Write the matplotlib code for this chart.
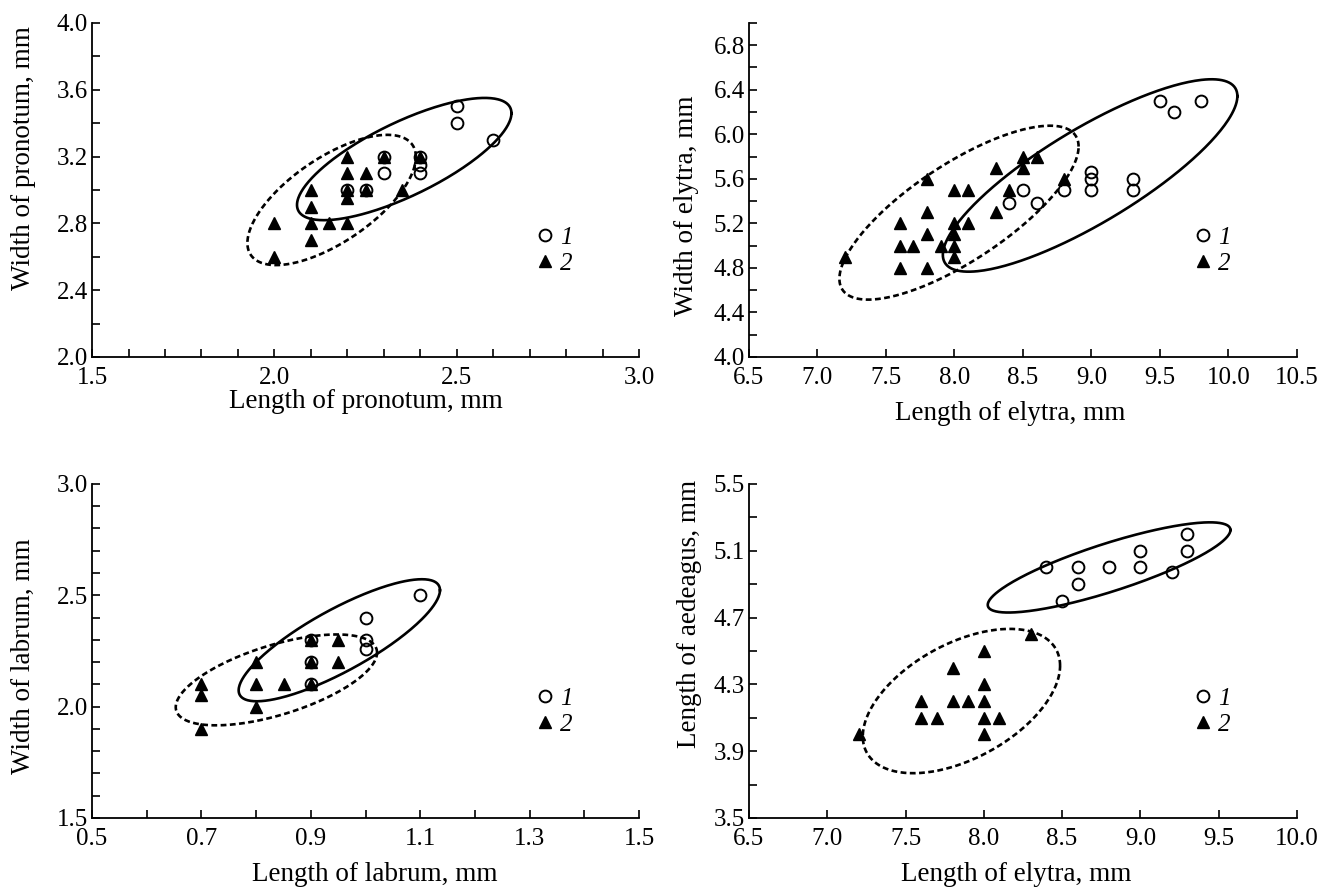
import numpy as np
import matplotlib.pyplot as plt

plt.rcParams['font.family'] = ['Liberation Serif', 'DejaVu Serif']
plt.rcParams['font.size'] = 18

# --- pronotum (group 1 = circles, group 2 = triangles)
pron_x1 = [2.5, 2.5, 2.6, 2.3, 2.3, 2.4, 2.4, 2.4, 2.2, 2.25]
pron_y1 = [3.5, 3.4, 3.3, 3.2, 3.1, 3.2, 3.15, 3.1, 3.0, 3.0]
pron_x2 = [2.2, 2.3, 2.4, 2.2, 2.25, 2.2, 2.25, 2.2, 2.1, 2.1, 2.35, 2.0, 2.1, 2.15, 2.2, 2.1, 2.0]
pron_y2 = [3.2, 3.2, 3.2, 3.1, 3.1, 3.0, 3.0, 2.95, 3.0, 2.9, 3.0, 2.8, 2.8, 2.8, 2.8, 2.7, 2.6]

# --- elytra width vs length
ely_x1 = [9.5, 9.6, 9.8, 9.0, 9.0, 9.0, 9.3, 9.3, 8.8, 8.5, 8.4, 8.6]
ely_y1 = [6.3, 6.2, 6.3, 5.66, 5.6, 5.5, 5.6, 5.5, 5.5, 5.5, 5.38, 5.38]
ely_x2 = [8.5, 8.6, 8.3, 8.5, 8.8, 7.8, 8.0, 8.1, 8.4, 7.8, 8.3, 7.6,
          8.0, 8.1, 7.8, 8.0, 7.6, 7.7, 7.9, 8.0, 8.0, 7.2, 7.6, 7.8]
ely_y2 = [5.8, 5.8, 5.7, 5.7, 5.6, 5.6, 5.5, 5.5, 5.5, 5.3, 5.3, 5.2,
          5.2, 5.2, 5.1, 5.1, 5.0, 5.0, 5.0, 5.0, 4.9, 4.9, 4.8, 4.8]

# --- labrum
lab_x1 = [1.1, 1.0, 1.0, 1.0, 0.9, 0.9, 0.9]
lab_y1 = [2.5, 2.4, 2.3, 2.26, 2.3, 2.2, 2.1]
lab_x2 = [0.9, 0.9, 0.9, 0.95, 0.95, 0.85, 0.8, 0.8, 0.8, 0.7, 0.7, 0.7]
lab_y2 = [2.3, 2.2, 2.1, 2.3, 2.2, 2.1, 2.1, 2.2, 2.0, 2.1, 2.05, 1.9]

# --- aedeagus vs elytra
aed_x1 = [8.4, 8.6, 8.6, 8.5, 8.8, 9.0, 9.0, 9.2, 9.3, 9.3]
aed_y1 = [5.0, 5.0, 4.9, 4.8, 5.0, 5.1, 5.0, 4.97, 5.2, 5.1]
aed_x2 = [7.2, 7.6, 7.6, 7.7, 7.8, 7.8, 7.9, 8.0, 8.0, 8.0, 8.0, 8.0, 8.1, 8.3]
aed_y2 = [4.0, 4.2, 4.1, 4.1, 4.4, 4.2, 4.2, 4.5, 4.3, 4.2, 4.1, 4.0, 4.1, 4.6]

# ellipses: centre x, centre y, half-range x, half-range y, correlation
pron_ell1 = [2.356, 3.185, 0.294, 0.366, 0.75]
pron_ell2 = [2.157, 2.94, 0.231, 0.39, 0.66]
ely_ell1 = [8.99, 5.63, 1.075, 0.864, 0.825]
ely_ell2 = [8.033, 5.296, 0.873, 0.781, 0.76]
lab_ell1 = [0.952, 2.298, 0.184, 0.274, 0.82]
lab_ell2 = [0.837, 2.12, 0.184, 0.204, 0.6]
aed_ell1 = [8.80, 5.0, 0.775, 0.27, 0.83]
aed_ell2 = [7.857, 4.2, 0.63, 0.432, 0.49]


def ellipse(ax, p, ls):
    t = np.linspace(0, 2 * np.pi, 300)
    phi = np.arccos(p[4])
    ax.plot(p[0] + p[2] * np.cos(t), p[1] + p[3] * np.cos(t - phi),
            color='black', lw=1.9, ls=ls, zorder=2)


def panel(rect, x1, y1, x2, y2, e1, e2, xlim, ylim, xt, xminor, yt, yminor,
          xlabel, ylabel, xlab_pos, ylab_pos):
    ax = fig.add_axes(rect)
    ellipse(ax, e1, '-')
    ellipse(ax, e2, (0, (2.2, 1.3)))
    h1, = ax.plot(x1, y1, 'o', ms=8.5, mfc='none', mec='black', mew=1.4, zorder=3)
    h2, = ax.plot(x2, y2, '^', ms=9, color='black', zorder=4)
    ax.set_xlim(xlim)
    ax.set_ylim(ylim)
    ax.set_xticks(xt)
    ax.set_xticklabels(['%.1f' % v for v in xt])
    ax.set_xticks(xminor, minor=True)
    ax.set_yticks(yt)
    ax.set_yticklabels(['%.1f' % v for v in yt])
    ax.set_yticks(yminor, minor=True)
    ax.spines['top'].set_visible(False)
    ax.spines['right'].set_visible(False)
    ax.spines['left'].set_linewidth(1.3)
    ax.spines['bottom'].set_linewidth(1.3)
    ax.tick_params(which='both', direction='in', length=6, width=1.2)
    ax.tick_params(axis='x', which='both', pad=7)
    ax.tick_params(axis='y', which='both', pad=3)
    ax.set_xlabel(xlabel, fontsize=19.5)
    ax.set_ylabel(ylabel, fontsize=19.5)
    ax.xaxis.set_label_coords(*xlab_pos)
    ax.yaxis.set_label_coords(*ylab_pos)
    ax.legend([h1, h2], ['1', '2'], loc='center left', bbox_to_anchor=(0.812, 0.318),
              frameon=False, handlelength=0.7, handletextpad=0.25, labelspacing=0.12,
              borderpad=0, borderaxespad=0, prop={'style': 'italic', 'size': 18})
    return ax


fig = plt.figure(figsize=(13.32, 8.96), dpi=100)

panel([0.0691, 0.6016, 0.4107, 0.3728], pron_x1, pron_y1, pron_x2, pron_y2,
      pron_ell1, pron_ell2, (1.5, 3.0), (2.0, 4.0),
      [1.5, 2.0, 2.5, 3.0], np.arange(1.5, 3.01, 0.1),
      [2.0, 2.4, 2.8, 3.2, 3.6, 4.0], np.arange(2.0, 4.01, 0.2),
      'Length of pronotum, mm', 'Width of pronotum, mm', (0.5, -0.096), (-0.102, 0.596))

panel([0.5623, 0.6016, 0.4114, 0.3728], ely_x1, ely_y1, ely_x2, ely_y2,
      ely_ell1, ely_ell2, (6.5, 10.5), (4.0, 7.0),
      [6.5, 7.0, 7.5, 8.0, 8.5, 9.0, 9.5, 10.0, 10.5], [],
      [4.0, 4.4, 4.8, 5.2, 5.6, 6.0, 6.4, 6.8], np.arange(4.0, 7.01, 0.2),
      'Length of elytra, mm', 'Width of elytra, mm', (0.476, -0.132), (-0.091, 0.452))

panel([0.0691, 0.0871, 0.4107, 0.3728], lab_x1, lab_y1, lab_x2, lab_y2,
      lab_ell1, lab_ell2, (0.5, 1.5), (1.5, 3.0),
      [0.5, 0.7, 0.9, 1.1, 1.3, 1.5], np.arange(0.5, 1.51, 0.1),
      [1.5, 2.0, 2.5, 3.0], np.arange(1.5, 3.01, 0.1),
      'Length of labrum, mm', 'Width of labrum, mm', (0.517, -0.132), (-0.102, 0.485))

panel([0.5623, 0.0871, 0.4114, 0.3728], aed_x1, aed_y1, aed_x2, aed_y2,
      aed_ell1, aed_ell2, (6.5, 10.0), (3.5, 5.5),
      [6.5, 7.0, 7.5, 8.0, 8.5, 9.0, 9.5, 10.0], [],
      [3.5, 3.9, 4.3, 4.7, 5.1, 5.5], np.arange(3.5, 5.51, 0.2),
      'Length of elytra, mm', 'Length of aedeagus, mm', (0.487, -0.132), (-0.086, 0.61))

fig.savefig('out.png', dpi=100)
